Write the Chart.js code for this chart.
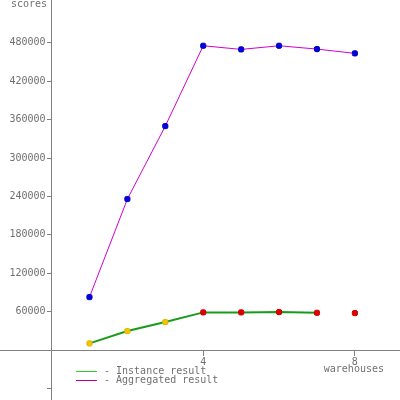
<!DOCTYPE html>
<html>
<head>
<meta charset="utf-8">
<script src="https://cdn.jsdelivr.net/npm/chart.js@4"></script>
<style>
  body { margin: 0; background: #fff; }
  #wrap { width: 400px; height: 400px; }
</style>
</head>
<body>
<div id="wrap"><canvas id="myChart" width="400" height="400"></canvas></div>
<script>
// data
const warehouses = [1, 2, 3, 4, 5, 6, 7, 8];
const aggregated = [82800, 236000, 350000, 475500, 469800, 475500, 470300, 463600];
const instance = [10400, 29700, 43750, 58900, 58900, 59400, 58300, 57800];
const xTicks = [4, 8];
const yTicks = [-60000, 60000, 120000, 180000, 240000, 300000, 360000, 420000, 480000];
const legendLabels = ['- Instance result', '- Aggregated result'];

const monoFont = { family: 'DejaVu Sans Mono', size: 10 };
const axisGrey = '#808080';
const textGrey = '#707070';

function toPoints(xs, ys) {
    return xs.map((x, i) => ({ x: x, y: ys[i] }));
}

// let the plot area use the whole canvas
function noPadding(scale) {
    scale.paddingTop = 0;
    scale.paddingBottom = 0;
    scale.paddingLeft = 0;
    scale.paddingRight = 0;
}

// axis titles + legend, drawn after the chart
const extraText = {
    id: 'extraText',
    afterDraw(chart) {
        const ctx = chart.ctx;
        const xs = chart.scales.x;
        ctx.save();
        ctx.font = '10px "DejaVu Sans Mono"';
        ctx.fillStyle = textGrey;
        ctx.textBaseline = 'middle';
        ctx.textAlign = 'left';
        ctx.fillText('scores', 11, 4);
        ctx.textAlign = 'center';
        ctx.fillText('warehouses', xs.getPixelForValue(8) - 1, 369);

        // legend
        const colors = ['#33cc33', '#b000b0'];
        ctx.textAlign = 'left';
        legendLabels.forEach((label, i) => {
            const y = 371 + i * 9;
            ctx.strokeStyle = colors[i];
            ctx.lineWidth = 1;
            ctx.beginPath();
            ctx.moveTo(76, y + 0.5);
            ctx.lineTo(97, y + 0.5);
            ctx.stroke();
            ctx.fillStyle = textGrey;
            ctx.fillText(label, 104, y);
        });
        ctx.restore();
    }
};

new Chart(document.getElementById('myChart').getContext('2d'), {
    type: 'line',
    data: {
        datasets: [{
            label: 'Aggregated result',
            data: toPoints(warehouses, aggregated),
            borderColor: '#d000d0',
            borderWidth: 1,
            pointStyle: 'rectRounded',
            pointRadius: 3,
            pointBackgroundColor: '#0000e0',
            pointBorderColor: '#0000c0',
            pointBorderWidth: 1
        }, {
            label: 'Instance result',
            data: toPoints(warehouses, instance),
            borderColor: '#1a9a1a',
            borderWidth: 2,
            segment: {
                // last instance point is not joined
                borderColor: c => c.p1DataIndex === warehouses.length - 1 ? 'rgba(0,0,0,0)' : undefined
            },
            pointStyle: 'rectRounded',
            pointRadius: 3,
            pointBackgroundColor: warehouses.map(w => w < 4 ? '#f0c800' : '#e00000'),
            pointBorderColor: warehouses.map(w => w < 4 ? '#e0b000' : '#d00000'),
            pointBorderWidth: 1
        }]
    },
    options: {
        responsive: false,
        animation: false,
        layout: { padding: 0, autoPadding: false },
        plugins: {
            legend: { display: false },
            tooltip: { enabled: false }
        },
        scales: {
            x: {
                type: 'linear',
                min: -1.36,
                max: 9.19,
                position: { y: 0 },
                afterBuildTicks: scale => { scale.ticks = xTicks.map(v => ({ value: v })); },
                afterFit: noPadding,
                grid: { drawOnChartArea: false, tickLength: 5, color: axisGrey },
                border: { color: axisGrey },
                ticks: { font: monoFont, color: textGrey, padding: 1, maxRotation: 0 }
            },
            y: {
                type: 'linear',
                min: -78000,
                max: 547000,
                position: { x: 0 },
                afterBuildTicks: scale => { scale.ticks = yTicks.map(v => ({ value: v })); },
                afterFit: noPadding,
                grid: { drawOnChartArea: false, tickLength: 4, color: axisGrey },
                border: { color: axisGrey },
                ticks: {
                    font: monoFont,
                    color: textGrey,
                    padding: 3,
                    // trailing space keeps the label clear of the axis
                    callback: v => v < 0 ? '' : v + ' '
                }
            }
        }
    },
    plugins: [extraText]
});
</script>
</body>
</html>
